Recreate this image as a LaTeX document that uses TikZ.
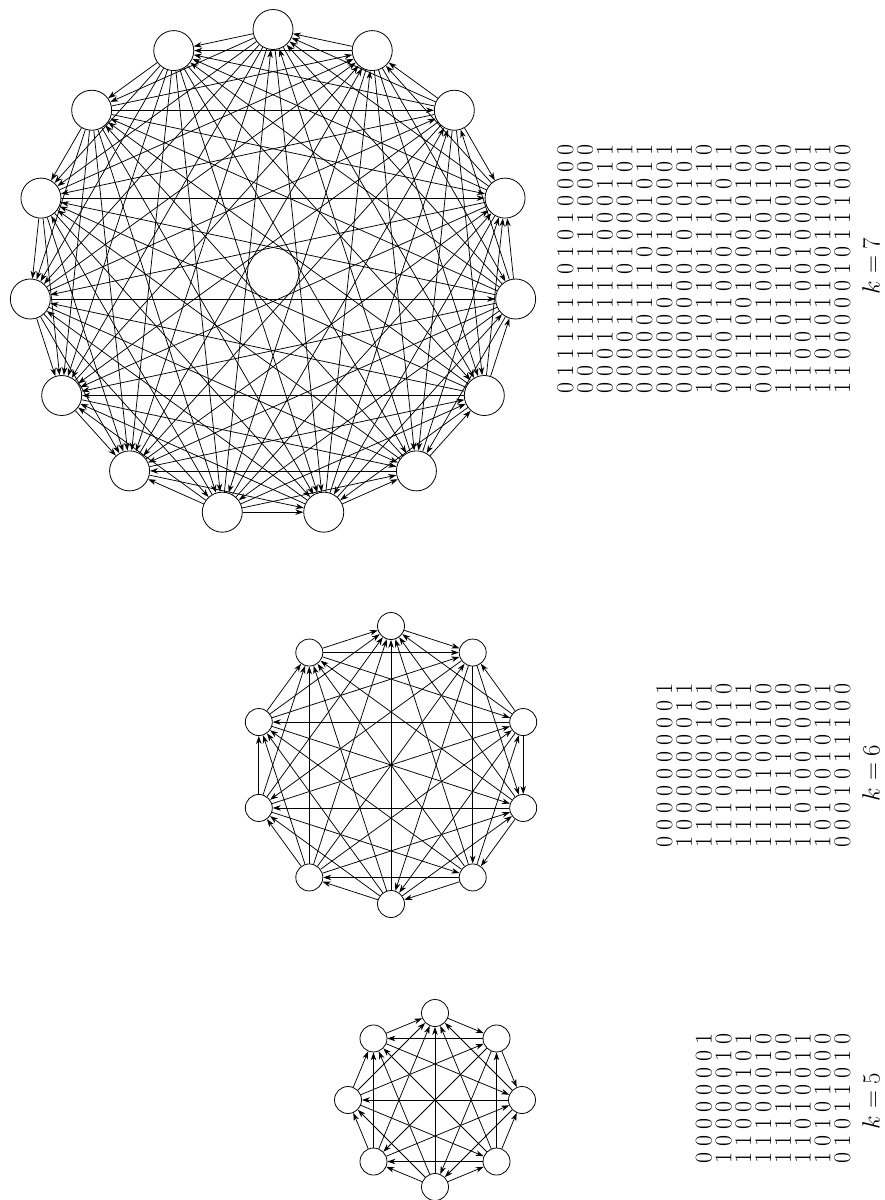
\documentclass[tikz,border=0pt]{standalone}
\usepackage{fontspec}
\usetikzlibrary{arrows.meta}
\newcommand\drowx[1]{\expandafter\drowi#1\relax}
\def\drowi#1{\ifx#1\relax\else\makebox[17pt]{#1}\expandafter\drowi\fi}
\begin{document}
\begin{tikzpicture}[x=1pt,y=1pt,
  vtx/.style={circle,draw,fill=white,inner sep=0pt,line width=0.8pt},
  edge/.style={line width=0.75pt,-{Stealth[length=8pt,width=5.5pt,inset=2.5pt]}},
  mrow/.style={rotate=90,inner sep=0pt,font=\fontsize{24}{24}\selectfont},
  klab/.style={rotate=90,inner sep=0pt,font=\fontsize{26}{26}\selectfont}]
\useasboundingbox (0,0) rectangle (885,-1200);

% ---------- k = 7 ----------
\foreach \i in {1,...,15}
  \node[vtx,minimum size=40pt] (c\i) at ({273+244*cos(90+24*(\i-1))},{-273.5+244*sin(90+24*(\i-1))}) {};
\foreach \i/\o in {1/{2,3,4,5,6,7,9,11},2/{3,4,5,6,7,8,9,10,11},3/{4,5,6,7,8,9,13,14,15},
  4/{5,6,7,9,13,15},5/{6,7,8,10,12,14,15},6/{7,10,15},7/{9,11,13,15},
  8/{1,4,6,7,9,10,11,13,14},9/{5,6,10,12,14,15},10/{1,3,4,7,11,13},
  11/{3,4,5,6,9,12,13},12/{1,2,3,4,6,7,8,10,13,14},13/{1,2,5,6,9,15},
  14/{1,2,4,6,7,10,11,13,15},15/{1,2,8,10,11,12}}
  \foreach \j in \o \draw[edge] (c\i) -- (c\j);

% ---------- k = 6 ----------
\foreach \i in {1,...,10}
  \node[vtx,minimum size=27pt] (b\i) at ({391+139*cos(90+36*(\i-1))},{-765+139*sin(90+36*(\i-1))}) {};
\foreach \i/\o in {1/{10},2/{1,9,10},3/{1,2,8,10},4/{1,2,3,7,9},5/{1,2,3,4,8,9,10},
  6/{1,2,3,4,5,8},7/{1,2,3,5,6,9},8/{1,2,4,7},9/{1,3,6,8,10},10/{4,6,7,8}}
  \foreach \j in \o \draw[edge] (b\i) -- (b\j);

% ---------- k = 5 ----------
\foreach \i in {1,...,8}
  \node[vtx,minimum size=27pt] (a\i) at ({435+87*cos(90+45*(\i-1))},{-1100+87*sin(90+45*(\i-1))}) {};
\foreach \i/\o in {1/{8},2/{1,7},3/{1,2,6,8},4/{1,2,3,7},5/{1,2,3,4,6},
  6/{1,2,4,7,8},7/{1,3,5},8/{2,4,5,7}}
  \foreach \j in \o \draw[edge] (a\i) -- (a\j);

% ---------- matrices ----------
\foreach \i/\s in {1/011111101010000,2/001111111110000,3/000111111000111,4/000011101000101,
  5/000001110101011,6/000000100100001,7/000000001010101,8/100101101110110,
  9/000011000101011,10/101100100010100,11/001111001001100,12/111101110100110,
  13/110011001000001,14/110101100110101,15/110000010111000}
  \node[mrow] (mc\i) at ({565.3+19.8*(\i-1)},-268.5) {\drowx{\s}};
\foreach \i/\s in {1/0000000001,2/1000000011,3/1100000101,4/1110001010,5/1111000111,
  6/1111100100,7/1110110010,8/1101001000,9/1010010101,10/0001011100}
  \node[mrow] (mb\i) at ({664.3+19.8*(\i-1)},-765.5) {\drowx{\s}};
\foreach \i/\s in {1/00000001,2/10000010,3/11000101,4/11100010,5/11110100,
  6/11010011,7/10101000,8/01011010}
  \node[mrow] (ma\i) at ({703.9+19.8*(\i-1)},-1098) {\drowx{\s}};

\node[klab] (lc) at (871,-266) {$k=7$};
\node[klab] (lb) at (871,-773) {$k=6$};
\node[klab] (la) at (871,-1101) {$k=5$};
\end{tikzpicture}
\end{document}
